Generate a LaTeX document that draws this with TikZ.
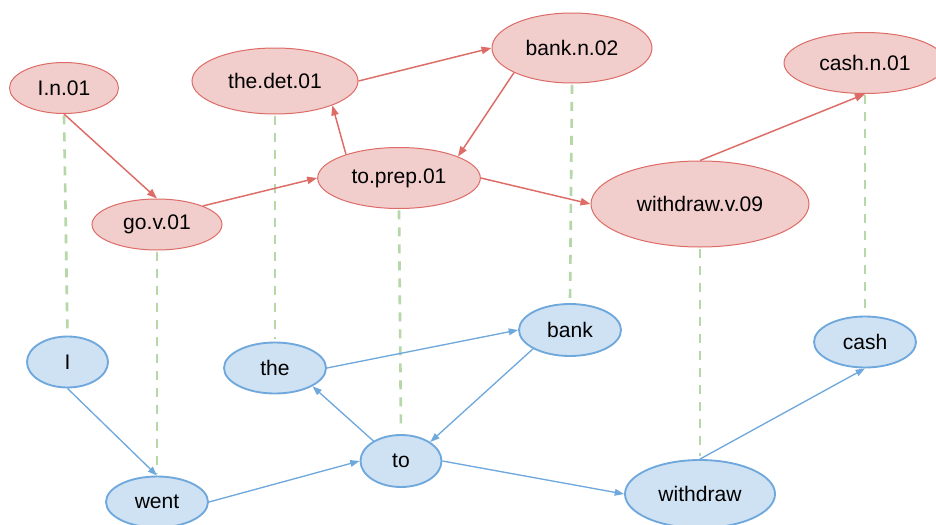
\documentclass[tikz,border=0pt]{standalone}
\usepackage{fontspec}
\setmainfont{Liberation Sans}
\usepackage{tikz}
\usetikzlibrary{shapes.geometric, arrows.meta}
\definecolor{synfill}{HTML}{F1CDCC}
\definecolor{synline}{HTML}{DD6B66}
\definecolor{wordfill}{HTML}{CFE2F3}
\definecolor{wordline}{HTML}{6FA8DC}
\definecolor{alignline}{HTML}{B6D7A8}
\tikzset{
    synset/.style={draw=synline, line width=0.75pt, ellipse, fill=synfill, inner sep=0pt, font=\fontsize{15.8}{18}\selectfont},
    word/.style={draw=wordline, line width=1.4pt, ellipse, fill=wordfill, inner sep=0pt, font=\fontsize{15.8}{18}\selectfont},
    synarrow/.style={-{Triangle[length=7.5pt,width=5.5pt]}, draw=synline, line width=1.1pt},
    wordarrow/.style={-{Triangle[length=7pt,width=5pt]}, draw=wordline, line width=1pt},
    sensealign/.style={draw=alignline, line width=2pt, dash pattern=on 6.75pt off 6pt, shorten <=1pt, shorten >=2pt},
}

\begin{document}
\begin{tikzpicture}[x=0.75pt, y=-0.75pt]
        \useasboundingbox (0,0) rectangle (936,525);
        % synsets
        \node[synset, minimum width=81.75pt, minimum height=38.25pt] (In01) at (64,88) {I.n.01};
        \node[synset, minimum width=124.5pt, minimum height=49.5pt] (thedet) at (275,81) {the.det.01};
        \node[synset, minimum width=120pt, minimum height=52.5pt] (bankn) at (572,48) {bank.n.02};
        \node[synset, minimum width=121.5pt, minimum height=45.75pt] (cashn) at (865,63) {cash.n.01};
        \node[synset, minimum width=97.5pt, minimum height=38.25pt] (gov) at (157,224.5) {go.v.01};
        \node[synset, minimum width=122pt, minimum height=45.75pt] (toprep) at (399,178) {to.prep.01};
        \node[synset, minimum width=163.5pt, minimum height=64.5pt] (withdrawv) at (700,204) {withdraw.v.09};
        % words
        \node[word, minimum width=60.75pt, minimum height=38.25pt] (I) at (67.5,362) {I};
        \node[word, minimum width=76.5pt, minimum height=38.25pt] (the) at (275,368) {the};
        \node[word, minimum width=76.5pt, minimum height=39pt] (bank) at (570,330) {bank};
        \node[word, minimum width=76.5pt, minimum height=38.25pt] (cash) at (865,342) {cash};
        \node[word, minimum width=76.5pt, minimum height=38.25pt] (went) at (157,502) {went};
        \node[word, minimum width=60.75pt, minimum height=39pt] (to) at (401,461) {to};
        \node[word, minimum width=112.5pt, minimum height=51pt] (withdraw) at (700,494) {withdraw};
        % word -- synset alignment
        \draw[sensealign] (In01.south) -- (I.north);
        \draw[sensealign] (gov.south) -- (went.north);
        \draw[sensealign] (thedet.south) -- (the.north);
        \draw[sensealign] (toprep.south) -- (to.north);
        \draw[sensealign] (bankn.south) -- (bank.north);
        \draw[sensealign] (withdrawv.south) -- (withdraw.north);
        \draw[sensealign] (cashn.south) -- (cash.north);
        % synset graph
        \draw[synarrow] (In01.south) -- (gov.north);
        \draw[synarrow] (gov.22) -- (toprep.west);
        \draw[synarrow] (toprep.156) -- (thedet.-23);
        \draw[synarrow] (thedet.east) -- (bankn.west);
        \draw[synarrow] (bankn.203) -- (toprep.20);
        \draw[synarrow] (toprep.east) -- (withdrawv.west);
        \draw[synarrow] (withdrawv.north) -- (cashn.south);
        % word graph
        \draw[wordarrow] (I.south) -- (went.north);
        \draw[wordarrow] (went.east) -- (to.west);
        \draw[wordarrow] (to.144) -- (the.-26);
        \draw[wordarrow] (the.east) -- (bank.west);
        \draw[wordarrow] (bank.207) -- (to.33);
        \draw[wordarrow] (to.east) -- (withdraw.west);
        \draw[wordarrow] (withdraw.north) -- (cash.south);
    \end{tikzpicture}
\end{document}
